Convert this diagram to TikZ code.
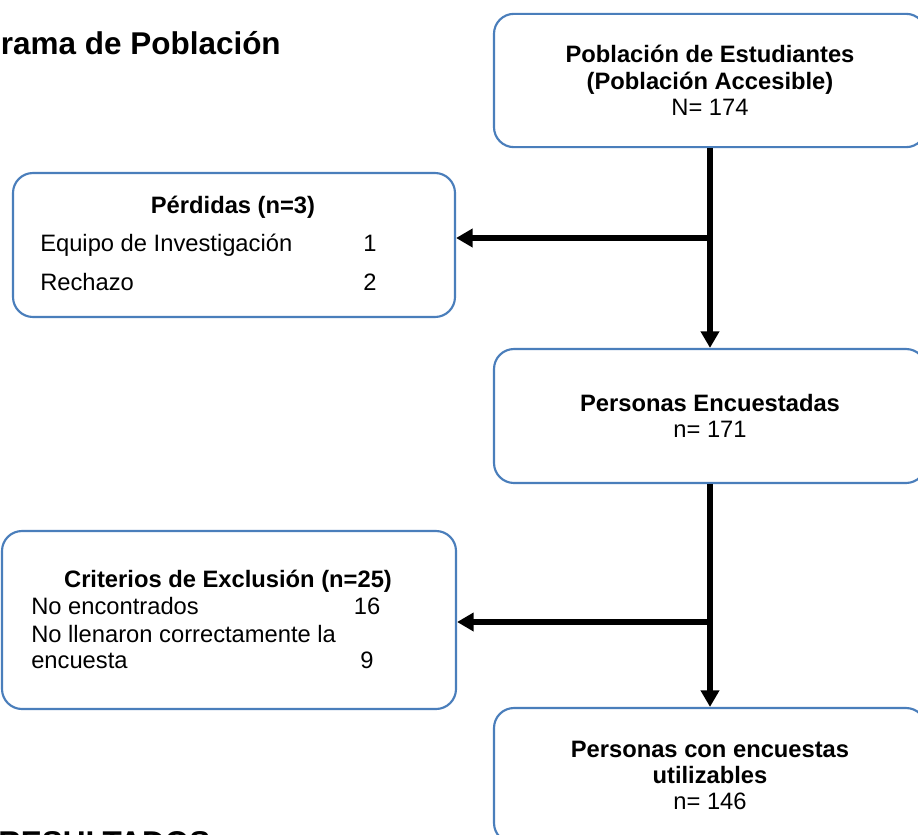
\documentclass[tikz,border=0pt]{standalone}
\usepackage{fontspec}
\setmainfont{Liberation Sans}
\usetikzlibrary{arrows.meta,positioning}
\definecolor{boxblue}{RGB}{74,126,187}
\tikzset{
  >={Triangle[width=13.5pt,length=12.5pt]},
  flow/.style={line width=4.5pt,->},
  % cajas redondeadas
  box/.style={draw=boxblue,line width=1.6pt,rounded corners=15pt,fill=white,
    align=center,font=\fontsize{17.8}{19.8}\selectfont},
  rbox/.style={box,minimum width=324pt,minimum height=100pt},
  % textos
  txt/.style={font=\fontsize{17.8}{19.8}\selectfont,inner sep=0pt},
  hdr/.style={txt,font=\fontsize{17.8}{19.8}\selectfont\bfseries,anchor=base},
  big/.style={font=\fontsize{23.6}{27}\selectfont\bfseries,inner sep=0pt}
}
\begin{document}
\begin{tikzpicture}[x=0.75pt,y=-0.75pt]
  \useasboundingbox (0,0) rectangle (918,835);
  \clip (0,0) rectangle (918,835);
  \fill[white] (0,0) rectangle (918,835);

  %--- titulos
  \node[big,anchor=base east] (titulo) at (281,55) {Diagrama de Población};
  \node[big,anchor=base west] (result) at (-2,853) {RESULTADOS};

  %--- columna derecha
  \node[rbox] (popul) at (710,80.5)
    {\textbf{Población de Estudiantes}\\\textbf{(Población Accesible)}\\N= 174};
  \node[rbox,minimum height=100.5pt] (encuest) at (710,416)
    {\textbf{Personas Encuestadas}\\n= 171};
  \node[rbox,minimum height=101.25pt] (util) at (710,775.5)
    {\textbf{Personas con encuestas}\\\textbf{utilizables}\\n= 146};

  %--- cajas de la izquierda
  \node[box,minimum width=331.5pt,minimum height=108pt] (perd) at (234,245) {};
  \node[box,minimum width=340.5pt,minimum height=133.5pt] (excl) at (229,620) {};

  \node[hdr] (perdT) at (233,213) {Pérdidas (n=3)};
  \node[txt,anchor=base west] (equipo) at (40,251) {Equipo de Investigación};
  \node[txt,anchor=base] (equipoN) at (370,251) {1};
  \node[txt,anchor=base west] (rechazo) at (40,290) {Rechazo};
  \node[txt,anchor=base] (rechazoN) at (370,290) {2};

  \node[hdr] (exclT) at (228,587) {Criterios de Exclusión (n=25)};
  \node[txt,anchor=base west] (noenc) at (31,614) {No encontrados};
  \node[txt,anchor=base] (noencN) at (367,614) {16};
  \node[txt,anchor=base west] (nollen) at (31,642) {No llenaron correctamente la};
  \node[txt,anchor=base west] (encta) at (31,668) {encuesta};
  \node[txt,anchor=base] (nollenN) at (367,668) {9};

  %--- flechas
  \coordinate (j1) at (710,238);
  \coordinate (j2) at (710,622);
  \draw[flow] (popul) -- (encuest);
  \draw[flow] (encuest) -- (util);
  \draw[flow] (j1) -- (j1 -| perd.east);
  \draw[flow] (j2) -- (j2 -| excl.east);
\end{tikzpicture}
\end{document}
